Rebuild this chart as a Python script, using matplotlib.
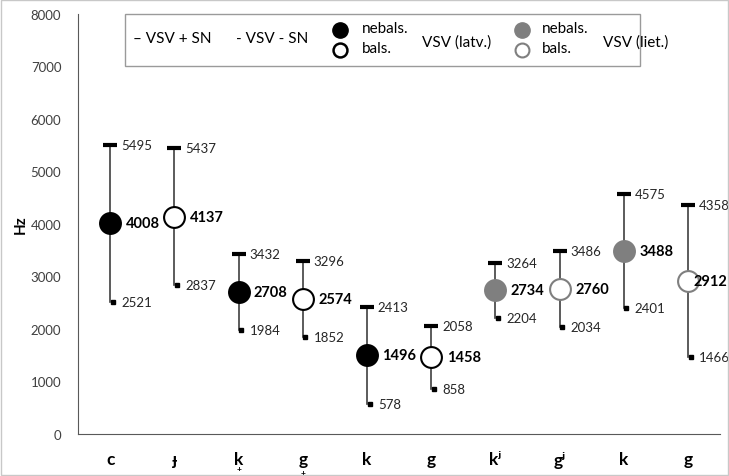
import numpy as np
import matplotlib.pyplot as plt
from matplotlib.patches import Rectangle
from matplotlib.transforms import blended_transform_factory

plt.rcParams['font.family'] = ['Lato', 'DejaVu Sans']

kategorijas = ['c', 'ɟ', 'k', 'g', 'k', 'g', 'kʲ', 'gʲ', 'k', 'g']
ar_plusu = [False, False, True, True, False, False, False, False, False, False]
vsv = [4008, 4137, 2708, 2574, 1496, 1458, 2734, 2760, 3488, 2912]
vsv_plus_sn = [5495, 5437, 3432, 3296, 2413, 2058, 3264, 3486, 4575, 4358]
vsv_minus_sn = [2521, 2837, 1984, 1852, 578, 858, 2204, 2034, 2401, 1466]
nebals = [True, False, True, False, True, False, True, False, True, False]
lietuviesu = [False] * 6 + [True] * 4

pelekais = '#7f7f7f'

fig = plt.figure(figsize=(7.29, 4.77), dpi=100)
ax = fig.add_axes([0.107, 0.088, 0.881, 0.881])

x = np.arange(len(kategorijas))
for i in x:
    ax.plot([i, i], [vsv_minus_sn[i], vsv_plus_sn[i]], color='#404040', lw=1.2, zorder=1)
    ax.plot([i], [vsv_plus_sn[i]], marker='_', ms=10, mew=3, color='black', zorder=2)
    ax.plot([i + 0.04], [vsv_minus_sn[i]], marker='s', ms=3, color='black', zorder=2)
    krasa = pelekais if lietuviesu[i] else 'black'
    fill = krasa if nebals[i] else 'white'
    ax.plot([i], [vsv[i]], marker='o', ms=15, mfc=fill, mec=krasa, mew=1.5, zorder=3)
    ax.text(i + 0.17, vsv_plus_sn[i], str(vsv_plus_sn[i]), va='center', ha='left',
            fontsize=9.5, color='#262626')
    ax.text(i + 0.17, vsv_minus_sn[i], str(vsv_minus_sn[i]), va='center', ha='left',
            fontsize=9.5, color='#262626')
    dx = 0.09 if i == 9 else 0.24
    ax.text(i + dx, vsv[i], str(vsv[i]), va='center', ha='left',
            fontsize=10.5, fontweight='bold', color='black')

ax.set_xlim(-0.5, len(kategorijas) - 0.5)
ax.set_ylim(0, 8000)
ax.set_yticks(range(0, 8001, 1000))
ax.set_xticks(x)
ax.set_xticklabels(kategorijas, fontsize=12.5, fontweight='bold')
ax.tick_params(axis='both', length=0, pad=14)
ax.tick_params(axis='x', pad=12)
ax.tick_params(axis='y', labelsize=9.5, labelcolor='#404040', pad=12)
ax.set_ylabel('Hz', fontsize=11, fontweight='bold', labelpad=2)
for s in ['top', 'right']:
    ax.spines[s].set_visible(False)
ax.spines['left'].set_color('#595959')
ax.spines['bottom'].set_color('#595959')

# '+' zem burta (k̟, g̟)
tr = blended_transform_factory(ax.transData, fig.transFigure)
for i in x:
    if ar_plusu[i]:
        py = 470 if kategorijas[i] == 'k' else 474
        ax.text(i, 1 - py / 477, '+', transform=tr, ha='center', va='center',
                fontsize=6, fontweight='bold', clip_on=False)

# legend box
def fx(px):
    return px / 729
def fy(py):
    return 1 - py / 477

fig.add_artist(Rectangle((fx(125), fy(67)), 515 / 729, 52 / 477, transform=fig.transFigure,
                         fill=False, ec='#9a9a9a', lw=1))
fig.text(fx(133), fy(39), '– VSV + SN', fontsize=11, va='center')
fig.text(fx(236), fy(39), '- VSV - SN', fontsize=11, va='center')
fig.lines.append(plt.Line2D([fx(340)], [fy(31)], marker='o', ms=11, mfc='black', mec='black',
                            transform=fig.transFigure))
fig.lines.append(plt.Line2D([fx(340)], [fy(51)], marker='o', ms=10, mfc='white', mec='black',
                            mew=1.8, transform=fig.transFigure))
fig.text(fx(362), fy(29), 'nebals.', fontsize=11, va='center')
fig.text(fx(362), fy(49), 'bals.', fontsize=11, va='center')
fig.text(fx(422), fy(43), 'VSV (latv.)', fontsize=11, va='center')
fig.lines.append(plt.Line2D([fx(522)], [fy(31)], marker='o', ms=11, mfc=pelekais, mec=pelekais,
                            transform=fig.transFigure))
fig.lines.append(plt.Line2D([fx(522)], [fy(51)], marker='o', ms=10, mfc='white', mec=pelekais,
                            mew=1.5, transform=fig.transFigure))
fig.text(fx(542), fy(29), 'nebals.', fontsize=11, va='center')
fig.text(fx(542), fy(49), 'bals.', fontsize=11, va='center')
fig.text(fx(603), fy(43), 'VSV (liet.)', fontsize=11, va='center')

fig.add_artist(Rectangle((0.002, 0.002), 0.996, 0.996, transform=fig.transFigure,
                         fill=False, ec='#c8c8c8', lw=1))

fig.savefig('out.png', dpi=100)
